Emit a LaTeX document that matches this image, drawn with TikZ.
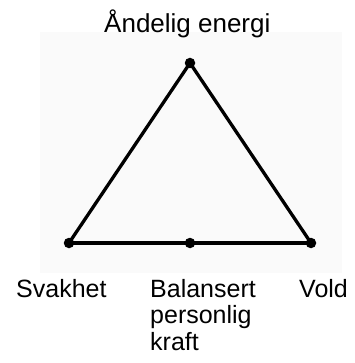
\documentclass[tikz,border=0pt]{standalone}
\usepackage{fontspec}
\setmainfont{Liberation Sans}
\usetikzlibrary{positioning}
\definecolor{panelc}{HTML}{FAFAFA}

\begin{document}
\begin{tikzpicture}[
  x=1pt, y=-1pt,
  font=\fontsize{25}{26.5}\selectfont,
  corner/.style={circle, fill=black, inner sep=0pt, minimum size=10.5pt},
  side/.style={line width=3.3pt, line join=round},
  lbl/.style={anchor=base west, inner sep=0pt, align=left},
]
\useasboundingbox (0,0) rectangle (354,363);
\fill[panelc] (40,32) rectangle (342,273);

% ---- corners ----
\node[corner] (top) at (190,63) {};
\node[corner] (left) at (69,243) {};
\node[corner] (right) at (311,243) {};
\node[corner] (mid) at (190,243) {};

% ---- sides ----
\draw[side] (left.center) -- (top.center) -- (right.center);
\draw[side] (left.center) -- (mid.center) -- (right.center);

% ---- labels ----
\node[lbl, font=\fontsize{26}{28}\selectfont] (spirit) at (104,33) {Åndelig energi};
\node[lbl] (weak) at (16,297) {Svakhet};
\node[lbl] (balance) at (150,350) {Balansert\\personlig\\kraft};
\node[lbl] (force) at (299,297) {Vold};
\end{tikzpicture}
\end{document}
